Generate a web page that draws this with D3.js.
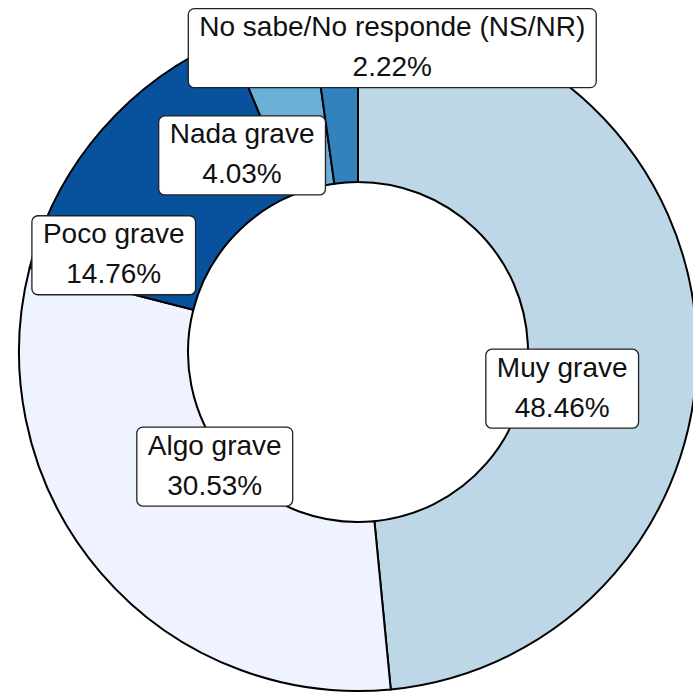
<!DOCTYPE html>
<html>
<head>
<meta charset="utf-8">
<script src="https://cdn.jsdelivr.net/npm/d3@7"></script>
<style>
  html, body { margin: 0; padding: 0; background: #fff; overflow: hidden; }
  svg { display: block; }
</style>
</head>
<body>
<svg id="chart" width="693" height="693"></svg>
<script>
// ---- data ----
const categories = ["Muy grave", "Algo grave", "Poco grave", "Nada grave", "No sabe/No responde (NS/NR)"];
const values = [48.46, 30.53, 14.76, 4.03, 2.22];
const colors = ["#bdd7e7", "#eff3ff", "#08519c", "#6baed6", "#3182bd"];
const valueLabels = ["48.46%", "30.53%", "14.76%", "4.03%", "2.22%"];

// ---- layout ----
const W = 693, H = 693;
const cx = 358, cy = 352;
const outerR = 339, innerR = 170;
// label nudges (repel-style offsets from the slice centroid)
const labelNudge = [[-50, 49], [50, -51], [-52, 70], [-49, 49], [52, -50]];
const fontSize = 28, lineGap = 40, padX = 11, boxH = 79, textTop = -12;

const svg = d3.select("#chart");
const g = svg.append("g").attr("transform", `translate(${cx},${cy})`);

const data = categories.map((c, i) => ({ cat: c, value: values[i], color: colors[i], label: valueLabels[i], i }));

const pie = d3.pie().value(d => d.value).sort(null);
const arc = d3.arc().innerRadius(innerR).outerRadius(outerR);
const arcs = pie(data);

g.selectAll("path.slice")
  .data(arcs)
  .join("path")
  .attr("class", "slice")
  .attr("d", arc)
  .attr("fill", d => d.data.color)
  .attr("stroke", "#000")
  .attr("stroke-width", 2);

const lg = g.selectAll("g.lab")
  .data(arcs)
  .join("g")
  .attr("class", "lab")
  .attr("transform", d => {
    const [x, y] = arc.centroid(d);
    const n = labelNudge[d.data.i];
    return `translate(${x + n[0]},${y + n[1]})`;
  });

lg.append("rect")
  .attr("fill", "#fff")
  .attr("stroke", "#222")
  .attr("stroke-width", 1.3)
  .attr("rx", 6).attr("ry", 6);

lg.append("text")
  .attr("text-anchor", "middle")
  .attr("y", textTop)
  .attr("font-family", "Liberation Sans, Arial, sans-serif")
  .attr("font-size", fontSize)
  .attr("fill", "#111")
  .text(d => d.data.cat);

lg.append("text")
  .attr("text-anchor", "middle")
  .attr("y", textTop + lineGap)
  .attr("font-family", "Liberation Sans, Arial, sans-serif")
  .attr("font-size", fontSize)
  .attr("fill", "#111")
  .text(d => d.data.label);

lg.each(function() {
  const sel = d3.select(this);
  const nodes = sel.selectAll("text").nodes();
  const w = Math.max(nodes[0].getComputedTextLength(), nodes[1].getComputedTextLength()) + 2 * padX;
  sel.select("rect")
    .attr("x", -w / 2)
    .attr("y", -boxH / 2)
    .attr("width", w)
    .attr("height", boxH);
});
</script>
</body>
</html>
